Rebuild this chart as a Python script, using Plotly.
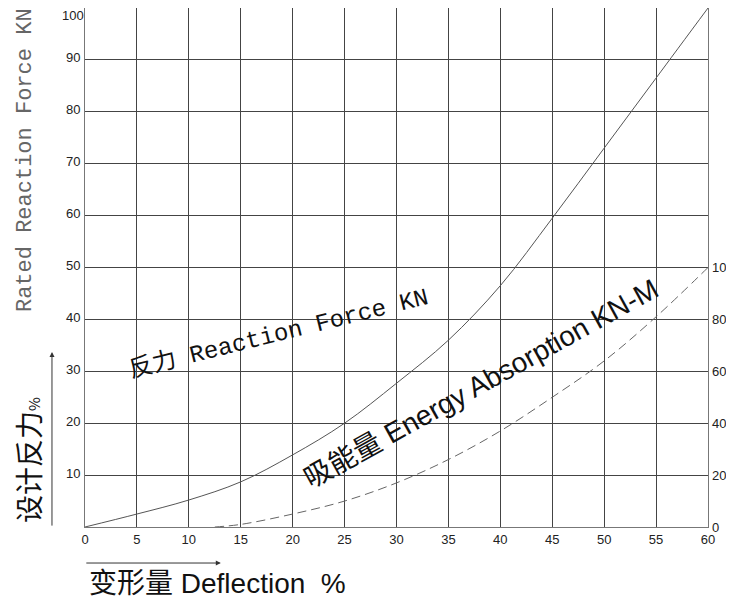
import plotly.graph_objects as go

# data
deflection = [0, 5, 10, 15, 20, 25, 30, 35, 40, 45, 50, 55, 60]
reaction_force = [0, 2.5, 5.2, 8.7, 13.9, 20, 27.7, 36, 46.5, 59.5, 73, 86.5, 100]

energy_deflection = [12.5, 15, 20, 25, 30, 35, 40, 45, 50, 55, 60]
energy_absorption = [0, 1, 5, 10, 17, 26, 37, 50, 64, 81, 100]

x_ticks = list(range(0, 61, 5))
left_ticks = list(range(10, 91, 10))
right_ticks = list(range(0, 101, 20))

fig = go.Figure()

fig.add_trace(go.Scatter(x=deflection, y=reaction_force, mode='lines',
                         line=dict(color='#555', width=1, shape='spline'),
                         name='Reaction Force'))
fig.add_trace(go.Scatter(x=energy_deflection, y=energy_absorption, mode='lines',
                         line=dict(color='#666', width=1, dash='9px,5px', shape='spline'),
                         name='Energy Absorption', yaxis='y2'))

tickfont = dict(family='Liberation Sans, Arial', size=13, color='#222')

# page body has an 8px margin, so the figure margins are shifted by 8px
fig.update_layout(
    width=734, height=600,
    margin=dict(l=77, r=34, t=0, b=81, autoexpand=False),
    plot_bgcolor='white', paper_bgcolor='white',
    showlegend=False,
    xaxis=dict(range=[0, 60], tickvals=x_ticks, showgrid=True, gridcolor='#444', gridwidth=1,
               showline=True, linecolor='#777', mirror=True, zeroline=False, ticks='',
               tickfont=tickfont, ticklabelstandoff=0),
    yaxis=dict(range=[0, 100], tickvals=left_ticks, showgrid=True, gridcolor='#444', gridwidth=1,
               showline=True, linecolor='#777', mirror=True, zeroline=False, ticks='',
               tickfont=tickfont, ticklabelstandoff=1, ticklabelshift=-2),
    yaxis2=dict(range=[0, 200], tickvals=right_ticks, overlaying='y', side='right',
                showgrid=False, zeroline=False, showline=False, ticks='',
                tickfont=tickfont, ticklabelstandoff=3, ticklabelshift=0),
)

annotations = [
    dict(text='100', x=0, y=1, xanchor='right', yanchor='top', xshift=1, yshift=2,
         font=tickfont),
    dict(text='Rated Reaction Force KN', x=-0.0963, y=0.707, textangle=-90,
         font=dict(family='Liberation Mono, monospace', size=22, color='#666')),
    dict(text='设计反力<span style="font-size:15px">%</span>', x=-0.0915, y=0.129, textangle=-90,
         font=dict(family='Noto Sans CJK SC', size=28, color='#111')),
    dict(text='变形量 Deflection  %', x=0.003, y=-0.108, xanchor='left',
         font=dict(family='Liberation Sans, Noto Sans CJK SC', size=28, color='#111')),
    dict(text='反力 Reaction Force KN', x=0.31, y=0.372, textangle=-14,
         font=dict(family='Liberation Mono, Noto Sans CJK SC', size=24, color='#111')),
    dict(text='吸能量 Energy Absorption KN-M', x=0.636, y=0.277, textangle=-29,
         font=dict(family='Liberation Sans, Noto Sans CJK SC', size=28, color='#111')),
]
for a in annotations:
    a.setdefault('xanchor', 'center')
    a.setdefault('yanchor', 'middle')
    a.update(xref='paper', yref='paper', showarrow=False)
    fig.add_annotation(**a)

# arrows beside the axis titles
fig.add_annotation(x=-0.053, y=0.337, xref='paper', yref='paper', text='', showarrow=True,
                   ax=0, ay=175, arrowhead=2, arrowsize=1, arrowwidth=1, arrowcolor='#333', standoff=0)
fig.add_annotation(x=0.218, y=-0.0694, xref='paper', yref='paper', text='', showarrow=True,
                   ax=-136, ay=0, arrowhead=2, arrowsize=1, arrowwidth=1, arrowcolor='#333', standoff=0)

fig.write_html("out.html")
